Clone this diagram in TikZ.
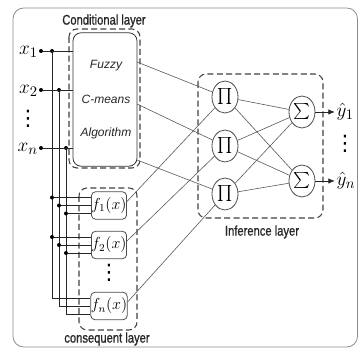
\documentclass[tikz,border=0pt]{standalone}
\usepackage{amsmath,amssymb}
\usepackage{fontspec}
\newfontfamily\layerfont[FakeStretch=0.8,FakeBold=1]{Liberation Sans}
\newfontfamily\algofont{Liberation Sans}
\newfontfamily\symfont{DejaVu Sans}
\usetikzlibrary{arrows.meta,calc,positioning,shapes.geometric}

\tikzset{
  frame/.style={draw=black!45, line width=0.6pt, rounded corners=8pt},
  wire/.style={draw=black!85, line width=0.6pt},
  link/.style={draw=black!65, line width=0.45pt},
  layer/.style={draw=black!75, line width=0.8pt, dash pattern=on 4.5pt off 2.5pt, rounded corners=6pt},
  layername/.style={font=\layerfont\fontsize{10.5}{12}\selectfont, text=black!85},
  algo/.style={font=\algofont\itshape\fontsize{9}{10}\selectfont, text=black!85},
  inlabel/.style={font=\fontsize{15}{17}\selectfont, inner sep=0pt},
  vdotsmark/.style={font=\symfont\fontsize{16}{18}\selectfont, inner sep=0pt},
  condbox/.style={rectangle, draw=black!80, line width=0.6pt, rounded corners=6pt, minimum width=48pt, minimum height=100pt},
  fbox/.style={rectangle, draw=black!70, line width=0.6pt, rounded corners=3pt, minimum width=25.5pt, minimum height=20.5pt, inner sep=0pt, font=\large},
  opnode/.style={ellipse, draw=black!70, line width=0.6pt, minimum width=19.5pt, minimum height=24pt, inner sep=0pt, fill=white, font=\large},
  dot/.style={circle, fill=black, inner sep=0pt, minimum size=3pt},
}

\begin{document}
\begin{tikzpicture}[x=0.75pt,y=-0.75pt]
  \useasboundingbox (0,0) rectangle (358,348);
  \draw[frame] (13,8) rectangle (357.5,347);

  % conditional layer
  \draw[layer] (69,29) rectangle (140,168);
  \node[layername] (lcond) at (104,21) {Conditional layer};
  \node[condbox] (fcm) at (105,99.5) {};
  \node[algo] (fuzzy) at (106,66) {Fuzzy};
  \node[algo] (cmeans) at (106,99) {C-means};
  \node[algo] (algor) at (106,133) {Algorithm};

  % inputs
  \foreach \n/\y/\bx in {1/51/52,2/90/59,n/148/66} {
    \node[inlabel,anchor=base east] (x\n) at (38,\y+4) {$x_{\n}$};
    \node[dot] (d\n) at (41,\y) {};
    \node[dot] (b\n) at (\bx,\y) {};
    \draw[wire] (d\n) -- (fcm.west |- d\n);
  }
  \node[vdotsmark] (xdots) at (28,119) {⋮};

  % consequent layer
  \draw[layer] (79,188) rectangle (137,330);
  \node[layername] (lcons) at (107,339) {consequent layer};
  \node[fbox] (f1) at (109,205.5) {$f_1(x)$};
  \node[fbox] (f2) at (109,245) {$f_2(x)$};
  \node[fbox] (fn) at (109,306) {$f_n(x)$};
  \node[vdotsmark] (fdots) at (109,273) {⋮};

  \foreach \n/\dy in {1/-8,2/0,n/8} {
    \coordinate (fni\n) at ($(fn.west)+(0,\dy)$);
    \draw[wire] (b\n) |- (fni\n);
    \foreach \f in {f1,f2} {
      \coordinate (\f i\n) at ($(\f.west)+(0,\dy)$);
      \node[dot] (j\f\n) at (b\n |- \f i\n) {};
      \draw[wire] (j\f\n) -- (\f i\n);
    }
  }

  % inference layer
  \draw[layer] (198,74) rectangle (323,218);
  \node[layername] (linf) at (262,232) {Inference layer};
  \foreach \k/\y in {1/97,2/146,3/194}
    \node[opnode] (p\k) at (225,\y) {$\prod$};
  \foreach \m/\y in {1/112,2/181}
    \node[opnode] (s\m) at (302,\y) {$\sum$};

  \coordinate (o1) at (137,62);
  \coordinate (o2) at (137,104);
  \coordinate (o3) at (137,160);
  \foreach \k in {1,2,3} \draw[link] (o\k) -- (p\k);
  \foreach \f/\k in {f1/1,f2/2,fn/3} \draw[link] ([yshift=3pt]\f.east) -- (p\k);
  \foreach \k in {1,2,3} \foreach \m in {1,2} \draw[link] (p\k) -- (s\m);

  % outputs
  \foreach \m/\y/\s in {1/112/1,2/181/n} {
    \node[inlabel,anchor=west,inner sep=1pt] (y\m) at (335,\y) {$\hat{y}_{\s}$};
    \draw[wire,-{Latex[length=5pt,width=4pt]}] (s\m) -- (y\m.west |- s\m);
  }
  \node[vdotsmark] (ydots) at (345,144) {⋮};
\end{tikzpicture}
\end{document}
